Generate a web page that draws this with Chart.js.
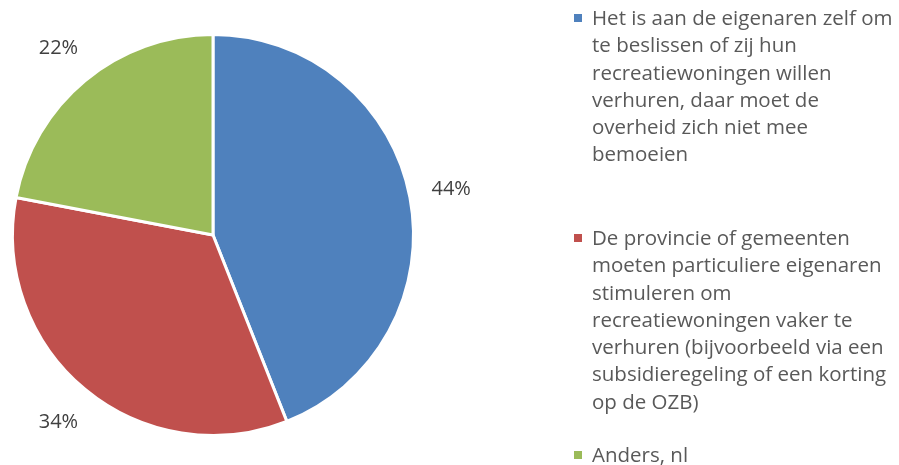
<!DOCTYPE html>
<html>
<head>
<meta charset="utf-8">
<script src="https://cdn.jsdelivr.net/npm/chart.js@4/dist/chart.umd.min.js"></script>
<style>
  html, body { margin: 0; padding: 0; background: #fff; }
  #wrap { position: relative; width: 899px; height: 465px; overflow: hidden; }
  #pie { position: absolute; left: 0; top: 0; }
  #legend { position: absolute; left: 574px; top: 4px; width: 325px;
    font-family: "Open Sans", Lato, sans-serif; font-size: 20.5px; line-height: 27.3px; color: #595959; }
  .item { position: relative; padding-left: 18px; }
  .item .box { position: absolute; left: 0; top: 10px; width: 8px; height: 8px; }
</style>
</head>
<body>
<div id="wrap">
  <canvas id="pie" width="899" height="465"></canvas>
  <div id="legend"></div>
</div>
<script>
// categorieën (regels zoals in de legenda)
const labels = [
  ['Het is aan de eigenaren zelf om', 'te beslissen of zij hun', 'recreatiewoningen willen',
   'verhuren, daar moet de', 'overheid zich niet mee', 'bemoeien'],
  ['De provincie of gemeenten', 'moeten particuliere eigenaren', 'stimuleren om',
   'recreatiewoningen vaker te', 'verhuren (bijvoorbeeld via een',
   'subsidieregeling of een korting', 'op de OZB)'],
  ['Anders, nl']
];
const values = [44, 34, 22];
const colors = ['#4F81BD', '#C0504D', '#9BBB59'];
const itemTops = [0, 220, 437]; // verticale start van elk legenda-item

// percentages buiten de taart
const pctLabels = {
  id: 'pctLabels',
  afterDatasetsDraw(chart) {
    const ctx = chart.ctx;
    const meta = chart.getDatasetMeta(0);
    ctx.save();
    ctx.font = '20px "Open Sans", Lato, sans-serif';
    ctx.fillStyle = '#404040';
    ctx.textAlign = 'center';
    ctx.textBaseline = 'middle';
    meta.data.forEach((arc, i) => {
      const mid = (arc.startAngle + arc.endAngle) / 2;
      const r = arc.outerRadius + 42;
      ctx.fillText(values[i] + '%', arc.x + Math.cos(mid) * r, arc.y + Math.sin(mid) * r);
    });
    ctx.restore();
  }
};

new Chart(document.getElementById('pie'), {
  type: 'pie',
  data: {
    labels,
    datasets: [{ data: values, backgroundColor: colors, borderColor: '#fff', borderWidth: 3 }]
  },
  options: {
    responsive: false, animation: false,
    layout: { padding: { left: 11, top: 33, right: 484, bottom: 28 } },
    plugins: { legend: { display: false }, tooltip: { enabled: false } }
  },
  plugins: [pctLabels]
});

// legenda als gewone tekst
document.getElementById('legend').innerHTML = labels.map((lines, i) => `
  <div class="item" style="position:absolute;top:${itemTops[i]}px;left:0;width:325px">
    <span class="box" style="background:${colors[i]}"></span>${lines.join('<br>')}</div>`).join('');
</script>
</body>
</html>
